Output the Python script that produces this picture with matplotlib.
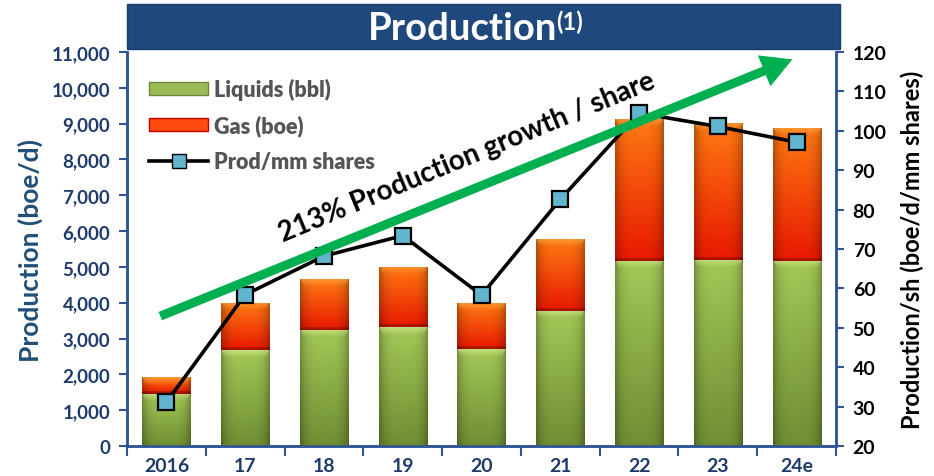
import numpy as np
import matplotlib.pyplot as plt
from matplotlib.patches import Rectangle, Patch, FancyArrowPatch
from matplotlib.lines import Line2D
from matplotlib.colors import to_rgb
from matplotlib.font_manager import FontProperties

plt.rcParams['font.family'] = ['Lato', 'DejaVu Sans']
plt.rcParams['font.weight'] = 'bold'

years = ['2016', '17', '18', '19', '20', '21', '22', '23', '24e']
liquids = [1460, 2670, 3250, 3320, 2700, 3770, 5170, 5200, 5170]
gas = [470, 1330, 1410, 1680, 1280, 2000, 3950, 3820, 3710]
prod_per_share = [31.1, 58.4, 68.2, 73.4, 58.3, 82.6, 104.5, 101.1, 97.1]

DARK_BLUE = '#1F3B6B'
SPINE = '#2F5597'

fig = plt.figure(figsize=(9.34, 4.77), dpi=100)
ax = fig.add_axes([127 / 934, 30 / 477, 709 / 934, 394 / 477])
ax2 = ax.twinx()

x = np.arange(len(years))
width = 0.61


def shaded(top, bot, h, chamfer_col, rows_per_unit=1 / 25, chamfer_units=200):
    n_rows = max(int(h * rows_per_unit), 4)
    n_cols = 60
    top, bot, cham = np.array(to_rgb(top)), np.array(to_rgb(bot)), np.array(to_rgb(chamfer_col))
    t = np.linspace(0, 1, n_rows)[:, None, None]
    img = top + (bot - top) * t
    img = np.repeat(img, n_cols, axis=1)
    u = np.linspace(-1, 1, n_cols)
    shade = 1 - 0.28 * np.abs(u) ** 4
    img = img * shade[None, :, None]
    ch = int(chamfer_units * rows_per_unit)
    for r in range(min(ch, n_rows)):
        w = 1 - r / ch
        inner = np.abs(u) < (1 - 0.15 * r / ch)
        img[r, inner] = img[r, inner] * (1 - 0.6 * w) + cham * 0.6 * w
    return np.clip(img, 0, 1)


bars_liq = ax.bar(x, liquids, width, color='#9BBB59', edgecolor='none', zorder=2)
bars_gas = ax.bar(x, gas, width, bottom=liquids, color='#FF4000', edgecolor='none', zorder=2)

for rect in bars_liq:
    x0, y0, w, h = rect.get_x(), rect.get_y(), rect.get_width(), rect.get_height()
    img = shaded('#A4C957', '#6F8E33', h, '#D8EE90')
    im = ax.imshow(img, extent=(x0, x0 + w, y0, y0 + h), aspect='auto', zorder=3)
    im.set_clip_path(rect)
for rect in bars_gas:
    x0, y0, w, h = rect.get_x(), rect.get_y(), rect.get_width(), rect.get_height()
    img = shaded('#FF7A12', '#E81800', h, '#FFA640')
    img[-3:] = img[-3:] * 0.75
    im = ax.imshow(img, extent=(x0, x0 + w, y0, y0 + h), aspect='auto', zorder=3)
    im.set_clip_path(rect)

ax.set_xlim(-0.5, len(years) - 0.5)
ax.set_ylim(0, 11000)
ax.set_yticks(np.arange(0, 11001, 1000))
ax.set_yticklabels([f'{v:,}' for v in range(0, 11001, 1000)], fontweight='bold')
ax.set_xticks(x)
ax.set_xticklabels(years, fontweight='bold')
ax.set_xticks(np.arange(-0.5, len(years), 1), minor=True)
ax.tick_params(axis='x', which='major', length=0, pad=8, labelsize=14, labelcolor=DARK_BLUE)
ax.tick_params(axis='x', which='minor', length=7, width=1.5, color=SPINE)
ax.tick_params(axis='y', length=6, width=1.5, color=SPINE, labelsize=13.5, labelcolor=DARK_BLUE, pad=6)
ax.set_ylabel('Production (boe/d)', fontsize=19, fontweight='bold', color='#1F4E79', labelpad=6)

ax2.plot(x, prod_per_share, color='black', lw=2.6, marker='s', markersize=11,
         markerfacecolor='#62B5CF', markeredgecolor='black', markeredgewidth=1.6, zorder=4)
ax2.set_ylim(20, 120)
ax2.set_yticks(np.arange(20, 121, 10))
ax2.set_yticklabels([str(v) for v in range(20, 121, 10)], fontweight='bold')
ax2.tick_params(axis='y', length=6, width=1.5, color=SPINE, labelsize=14, labelcolor='black', pad=6)
ax2.set_ylabel('Production/sh (boe/d/mm shares)', fontsize=17, fontweight='bold', color='black',
               labelpad=10)

for a in (ax, ax2):
    a.spines['top'].set_visible(False)
    for s in ('left', 'right', 'bottom'):
        a.spines[s].set_color(SPINE)
        a.spines[s].set_linewidth(1.8)

# growth arrow
arrow = FancyArrowPatch((-0.11, 52.7), (7.98, 118.4),
                        arrowstyle='simple,head_length=2.2,head_width=2.4,tail_width=0.65',
                        mutation_scale=10, color='#00B050', lw=0, zorder=6)
ax2.add_patch(arrow)
ax2.text(3.82, 93.5, '213% Production growth / share', rotation=22.5, rotation_mode='anchor',
         ha='center', va='center', fontsize=20, fontweight='bold', color='black', zorder=7)

handles = [Patch(facecolor='#9BBB59', edgecolor='#6E8B3D', label='Liquids (bbl)'),
           Patch(facecolor='#FF4A10', edgecolor='#C00000', label='Gas (boe)'),
           Line2D([], [], color='black', lw=2.6, marker='s', markersize=10,
                  markerfacecolor='#62B5CF', markeredgecolor='black', label='Prod/mm shares')]
leg_font = FontProperties(family='Lato', weight='heavy', size=15.5)
leg = ax2.legend(handles=handles, loc='upper left', bbox_to_anchor=(0.031, 0.935), frameon=False,
                 borderaxespad=0, borderpad=0, prop=leg_font,
                 handlelength=2.75, handleheight=0.55, labelspacing=0.68, handletextpad=0.25)
for t in leg.get_texts():
    t.set_color('#555555')

# title banner
fig.patches.append(Rectangle((127 / 934, (477 - 50) / 477), 713 / 934, 45 / 477,
                             transform=fig.transFigure, facecolor='#1F497D', edgecolor='#1A3D69',
                             lw=1, zorder=0))
fig.text(557 / 934, (477 - 29) / 477, 'Production', ha='right', va='center', fontsize=27.5,
         fontweight='bold', color='white')
fig.text(556 / 934, (477 - 22) / 477, '(1)', ha='left', va='center', fontsize=17,
         fontweight='bold', color='white')

plt.savefig('out.png', dpi=100)
